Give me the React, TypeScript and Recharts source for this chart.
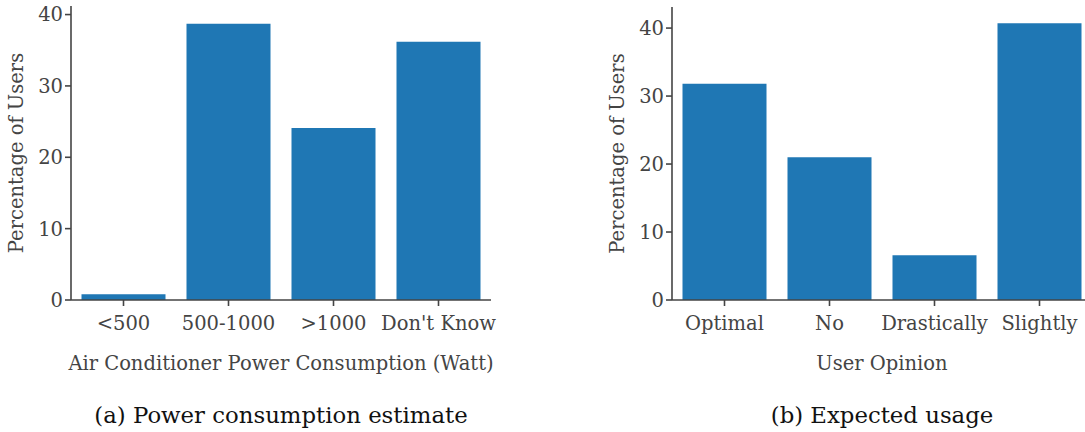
import React from 'react';
import { BarChart, Bar, XAxis, YAxis } from 'recharts';

const powerCategories = ['<500', '500-1000', '>1000', "Don't Know"];
const powerShares = [0.8, 38.7, 24.1, 36.2];

const opinionCategories = ['Optimal', 'No', 'Drastically', 'Slightly'];
const opinionShares = [31.8, 21.0, 6.6, 40.7];

const yTicks = [0, 10, 20, 30, 40];

const BLUE = '#1f77b4';
const INK = '#444444';
const FONT = '"DejaVu Serif", serif';
const FS = 19.5;

type PanelProps = {
  categories: string[];
  values: number[];
  yMax: number;
  xLabel: string;
  caption: string;
  left: number;
  top: number;
};

function Panel({ categories, values, yMax, xLabel, caption, left, top }: PanelProps) {
  const rows = categories.map((name, i) => ({ name, share: values[i] }));
  const width = 500;
  const height = 380;
  const plotLeft = 70;
  const plotRight = width - 10;
  const mid = (plotLeft + plotRight) / 2;

  return (
    <div style={{ position: 'absolute', left, top: 0, width, height: 432 }}>
      <BarChart
        width={width}
        height={height}
        data={rows}
        margin={{ top, right: 10, bottom: 0, left: 0 }}
        barCategoryGap="10%"
      >
        <XAxis
          dataKey="name"
          height={80}
          stroke={INK}
          strokeWidth={1.6}
          tickSize={6}
          tickMargin={10}
          tick={{ fill: INK, fontSize: FS, fontFamily: FONT }}
          interval={0}
          label={{
            value: xLabel,
            position: 'insideBottom',
            offset: 10,
            fill: INK,
            fontSize: FS,
            fontFamily: FONT,
          }}
        />
        <YAxis
          width={plotLeft}
          domain={[0, yMax]}
          ticks={yTicks}
          stroke={INK}
          strokeWidth={1.6}
          tickSize={6}
          tickMargin={2}
          tick={{ fill: INK, fontSize: FS, fontFamily: FONT }}
          label={(props: any) => {
            const vb = props.viewBox || {};
            const cy = (vb.y ?? 0) + (vb.height ?? 0) / 2;
            return (
              <text
                x={15}
                y={cy}
                transform={`rotate(-90, 15, ${cy})`}
                textAnchor="middle"
                dominantBaseline="central"
                fill={INK}
                fontSize={FS}
                fontFamily={FONT}
              >
                Percentage of Users
              </text>
            );
          }}
        />
        <Bar dataKey="share" fill={BLUE} isAnimationActive={false} />
      </BarChart>
      {/* sub-figure caption */}
      <svg
        width={width}
        height={52}
        style={{ position: 'absolute', left: 0, top: 380 }}
      >
        <text
          x={mid}
          y={43}
          textAnchor="middle"
          fill="#111"
          fontSize={22.8}
          fontFamily={FONT}
        >
          {caption}
        </text>
      </svg>
    </div>
  );
}

export default function App() {
  return (
    <div
      style={{
        position: 'fixed',
        left: 0,
        top: 0,
        width: 1085,
        height: 432,
        overflow: 'hidden',
        background: '#fff',
      }}
    >
      <Panel
        categories={powerCategories}
        values={powerShares}
        yMax={41.2}
        xLabel="Air Conditioner Power Consumption (Watt)"
        caption="(a) Power consumption estimate"
        left={1}
        top={6}
      />
      <Panel
        categories={opinionCategories}
        values={opinionShares}
        yMax={43.1}
        xLabel="User Opinion"
        caption="(b) Expected usage"
        left={602}
        top={7}
      />
    </div>
  );
}
